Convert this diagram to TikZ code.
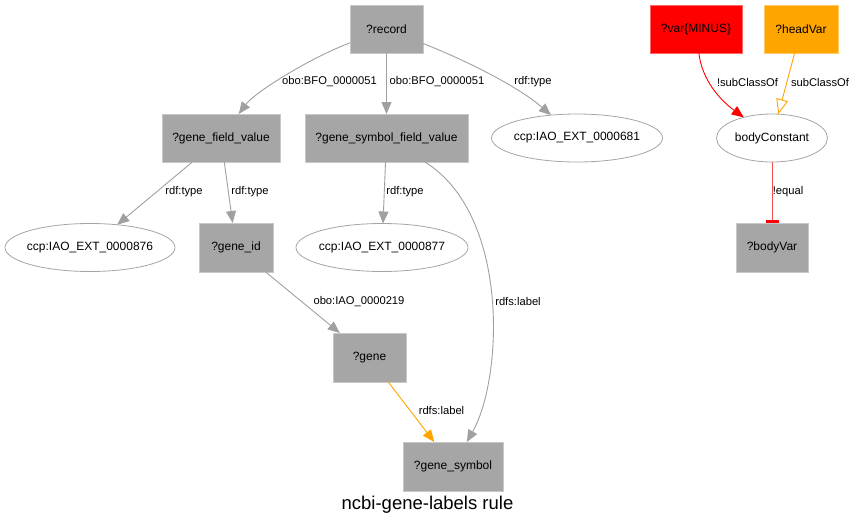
\documentclass[tikz,border=0pt]{standalone}
\usepackage{fontspec}
\setmainfont{Liberation Sans}
\usetikzlibrary{arrows.meta,shapes.geometric}
\definecolor{boxgray}{RGB}{166,166,166}
\definecolor{boxline}{RGB}{200,200,200}
\definecolor{edgegray}{RGB}{160,160,160}
\definecolor{ellline}{RGB}{165,165,165}
\definecolor{orng}{RGB}{255,165,0}
\definecolor{lred}{RGB}{245,80,80}
\tikzset{
  x=1pt, y=-1pt,
  every node/.style={font=\fontsize{12}{14}\selectfont, inner sep=0pt, outer sep=0pt},
  varbox/.style={rectangle, fill=boxgray, draw=boxline, line width=0.6pt, minimum height=48pt},
  constell/.style={ellipse, draw=ellline, line width=0.8pt, fill=white, minimum height=48pt, inner xsep=-18pt, inner ysep=-4pt},
  edge/.style={draw=edgegray, line width=0.9pt, -{Triangle[length=12pt,width=10pt]}},
  lbl/.style={font=\fontsize{11.2}{13}\selectfont}
}
\begin{document}
\begin{tikzpicture}
\useasboundingbox (0,0) rectangle (857,528);
% nodes
\node[varbox, minimum width=73pt] (rec) at (386.5,29) {?record};
\node[varbox, minimum width=118pt] (gfv) at (221,138) {?gene\_field\_value};
\node[varbox, minimum width=163pt] (gsfv) at (386.5,138) {?gene\_symbol\_field\_value};
\node[constell, minimum width=171pt] (e681) at (577,138) {ccp:IAO\_EXT\_0000681};
\node[constell, minimum width=170pt] (e876) at (90,247.5) {ccp:IAO\_EXT\_0000876};
\node[varbox, minimum width=74pt, minimum height=49pt] (gid) at (236,247.5) {?gene\_id};
\node[constell, minimum width=172pt] (e877) at (382,247.5) {ccp:IAO\_EXT\_0000877};
\node[varbox, minimum width=73pt, minimum height=49pt] (gene) at (369.5,357.5) {?gene};
\node[varbox, minimum width=100pt, minimum height=49pt] (gsym) at (453,466.5) {?gene\_symbol};
\node[varbox, fill=red, draw=red!60, minimum width=92pt] (var) at (696,29) {?var\{MINUS\}};
\node[varbox, fill=orng, draw=orng!60, minimum width=74pt] (head) at (801,29) {?headVar};
\node[constell, minimum width=111pt] (bc) at (772,138) {bodyConstant};
\node[varbox, minimum width=72pt, minimum height=49pt] (bv) at (772,247.5) {?bodyVar};
% edges
\draw[edge] (rec) .. controls (310,58) and (255,92) .. (gfv);
\draw[edge] (rec) -- (gsfv);
\draw[edge] (rec) .. controls (470,62) and (520,88) .. (e681);
\draw[edge] (gfv) -- (e876);
\draw[edge] (gfv) -- (gid);
\draw[edge] (gsfv) -- (e877);
\draw[edge] (gsfv) .. controls (510,215) and (503,378) .. (gsym);
\draw[edge] (gid) -- (gene);
\draw[edge, draw=orng, -{Triangle[length=12pt,width=10pt,color=orng]}] (gene) -- (gsym);
\draw[edge, draw=red, -{Triangle[length=12pt,width=10pt,color=red]}] (var) .. controls (702,80) and (720,100) .. (bc);
\draw[draw=orng, line width=0.9pt, -{Triangle[open,length=15pt,width=12pt,fill=white]}] (head) -- (bc);
\draw[draw=lred, line width=0.9pt, -{Rectangle[length=3.5pt,width=13pt,color=red]}] (bc) -- (bv);
% edge labels
\node[lbl] (l1) at (329.5,82) {obo:BFO\_0000051};
\node[lbl] (l2) at (437,82) {obo:BFO\_0000051};
\node[lbl] (l3) at (533,82) {rdf:type};
\node[lbl] (l4) at (184,192) {rdf:type};
\node[lbl] (l5) at (250,192) {rdf:type};
\node[lbl] (l6) at (405,192) {rdf:type};
\node[lbl] (l7) at (359,301.5) {obo:IAO\_0000219};
\node[lbl] (l8) at (518,301.5) {rdfs:label};
\node[lbl] (l9) at (441.5,410.5) {rdfs:label};
\node[lbl] (l10) at (747.5,82.5) {!subClassOf};
\node[lbl] (l11) at (820,82.5) {subClassOf};
\node[lbl] (l12) at (788,192) {!equal};
% title
\node[font=\fontsize{18.5}{22}\selectfont] (title) at (427.5,505) {ncbi-gene-labels rule};
\end{tikzpicture}
\end{document}
